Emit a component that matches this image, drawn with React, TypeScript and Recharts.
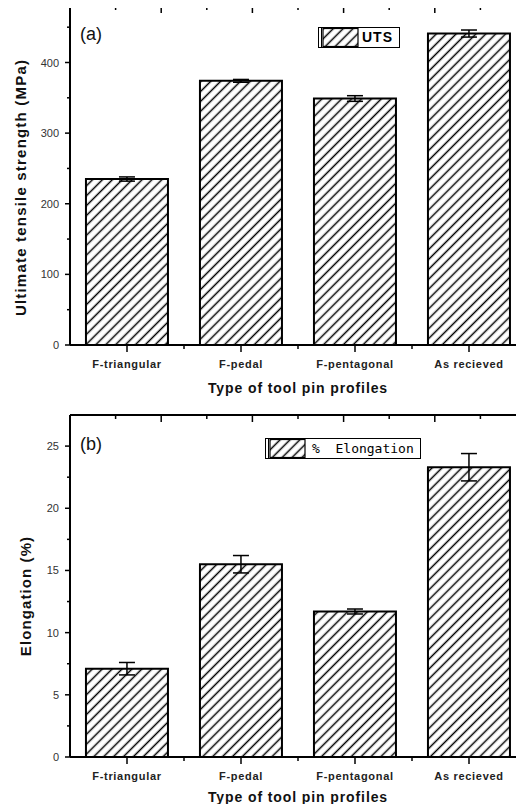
import React from 'react'
import { ComposedChart, Bar, Line, XAxis, YAxis, ErrorBar, Legend, CartesianGrid } from 'recharts'

const profiles = ['F-triangular', 'F-pedal', 'F-pentagonal', 'As recieved']
const utsValues = [235, 374, 349, 441]
const utsErrors = [3, 2, 4, 5]
const elongationValues = [7.1, 15.5, 11.7, 23.3]
const elongationErrors = [0.5, 0.7, 0.2, 1.1]

const utsTicks = [0, 50, 100, 150, 200, 250, 300, 350, 400, 450]
const elongationTicks = [0, 2.5, 5, 7.5, 10, 12.5, 15, 17.5, 20, 22.5, 25]
// the frame's top edge is split in tenths, the right edge in fifths (with halves)
const frameTopTicks = [1, 2, 3, 4, 5, 6, 7, 8, 9]
const frameSideSteps = [0, 0.5, 1, 1.5, 2, 2.5, 3, 3.5, 4, 4.5, 5]

const font = 'Arial, "Liberation Sans", sans-serif'

const utsData = profiles.map((name, i) => ({ name, value: utsValues[i], err: utsErrors[i] }))
const elongationData = profiles.map((name, i) => ({
  name,
  value: elongationValues[i],
  err: elongationErrors[i],
}))

const isMultiple = (v: number, step: number) => Math.abs(v / step - Math.round(v / step)) < 1e-6

const leftTick = (step: number) => (props: any) => {
  const { x, y, payload } = props
  const major = isMultiple(payload.value, step)
  return (
    <g>
      <line x1={x - (major ? 5 : 3)} x2={x} y1={y} y2={y} stroke="#000" strokeWidth={1.5} />
      {major && (
        <text
          x={x - 11}
          y={y}
          textAnchor="end"
          dominantBaseline="central"
          fontSize={11}
          fontFamily={font}
          fill="#333"
        >
          {payload.value}
        </text>
      )}
    </g>
  )
}

const CategoryTick = (props: any) => {
  const { x, y, payload, index } = props
  const half = payload.offset || 57
  return (
    <g>
      <line x1={x} x2={x} y1={y} y2={y + 7} stroke="#000" strokeWidth={1.5} />
      {index < profiles.length - 1 && (
        <line x1={x + half} x2={x + half} y1={y} y2={y + 4} stroke="#000" strokeWidth={1.5} />
      )}
      <text
        x={x}
        y={y + 19}
        textAnchor="middle"
        dominantBaseline="central"
        fontSize={11}
        fontWeight="bold"
        fontFamily={font}
        letterSpacing={0.7}
        fill="#222"
      >
        {payload.value}
      </text>
    </g>
  )
}

// top frame: draws all tenth-marks once, from the band geometry of the first category
const TopTick = (props: any) => {
  const { x, y, payload, index } = props
  if (index !== 0) return <g />
  const half = payload.offset || 57
  const left = x - half
  const step = (half * 2 * profiles.length) / 10
  return (
    <g>
      {frameTopTicks.map((k) => (
        <line
          key={k}
          x1={left + k * step}
          x2={left + k * step}
          y1={y}
          y2={y + (k % 2 === 0 ? 7 : 4)}
          stroke="#000"
          strokeWidth={1.5}
        />
      ))}
    </g>
  )
}

const rightTick = (unit: number) => (props: any) => {
  const { x, y, payload } = props
  return (
    <line
      x1={x - (isMultiple(payload.value, unit) ? 7 : 3)}
      x2={x}
      y1={y}
      y2={y}
      stroke="#000"
      strokeWidth={1.5}
    />
  )
}

const yTitle = (text: string, dx: number, shift: number, spacing: number) => (p: any) => {
  const vb = p.viewBox || { x: 0, y: 0, height: 0 }
  const cx = vb.x + dx
  const cy = vb.y + vb.height / 2 + shift
  return (
    <text
      x={cx}
      y={cy}
      transform={`rotate(-90 ${cx} ${cy})`}
      textAnchor="middle"
      dominantBaseline="central"
      fontSize={15}
      fontWeight="bold"
      fontFamily={font}
      letterSpacing={spacing}
      fill="#111"
    >
      {text}
    </text>
  )
}

function LegendBox({ id, label, mono }: { id: string; label: string; mono?: boolean }) {
  return (
    <div
      style={{
        display: 'flex',
        alignItems: 'center',
        border: '1.5px solid #000',
        height: 19,
        background: '#fff',
        paddingRight: 6,
      }}
    >
      <svg width={40} height={19} style={{ display: 'block' }}>
        <defs>
          <pattern id={id} patternUnits="userSpaceOnUse" width={7} height={7} patternTransform="rotate(45)">
            <line x1={3.5} y1={0} x2={3.5} y2={7} stroke="#000" strokeWidth={1.5} />
          </pattern>
        </defs>
        <line x1={2.5} x2={2.5} y1={0} y2={19} stroke="#000" strokeWidth={1} />
        <rect x={4} y={0.5} width={35} height={18} fill={`url(#${id})`} stroke="#000" strokeWidth={1.2} />
      </svg>
      <span
        style={{
          marginLeft: mono ? 6 : 3,
          fontFamily: mono ? '"DejaVu Sans Mono", monospace' : font,
          fontWeight: mono ? 'normal' : 'bold',
          fontSize: mono ? 13 : 14,
          letterSpacing: mono ? 0 : 1,
          whiteSpace: 'pre',
          lineHeight: '19px',
        }}
      >
        {label}
      </span>
    </div>
  )
}

interface PanelProps {
  data: { name: string; value: number; err: number }[]
  height: number
  topGap: number
  yDomain: [number, number]
  yTicks: number[]
  yStep: number
  yLabel: string
  yLabelDx: number
  yLabelShift: number
  yLabelSpacing: number
  tag: string
  tagTop: number
  legendLabel: string
  legendLeft: number
  legendTop: number
  mono?: boolean
  patternId: string
  titleOffset: number
}

function Panel(p: PanelProps) {
  const unit = p.yDomain[1] / 5
  const sideTicks = frameSideSteps.map((s) => s * unit)
  return (
    <div style={{ position: 'relative', width: 530, height: p.height }}>
      <ComposedChart
        width={530}
        height={p.height}
        data={p.data}
        margin={{ top: 0, right: 3, bottom: 0, left: 0 }}
        barCategoryGap="14%"
      >
        <defs>
          <pattern
            id={p.patternId}
            patternUnits="userSpaceOnUse"
            width={7}
            height={7}
            patternTransform="rotate(45)"
          >
            <line x1={3.5} y1={0} x2={3.5} y2={7} stroke="#000" strokeWidth={1.5} />
          </pattern>
        </defs>
        {/* top edge of the frame */}
        <CartesianGrid
          vertical={false}
          stroke="#000"
          strokeWidth={2}
          horizontalCoordinatesGenerator={(g: any) => [g.offset.top]}
        />
        <XAxis
          xAxisId="frame"
          orientation="top"
          dataKey="name"
          height={p.topGap}
          tickSize={0}
          tickMargin={0}
          tickLine={false}
          interval={0}
          tick={TopTick}
          axisLine={{ stroke: '#000', strokeWidth: 2 }}
        />
        <XAxis
          dataKey="name"
          height={55}
          tickSize={0}
          tickMargin={0}
          tickLine={false}
          interval={0}
          tick={CategoryTick}
          axisLine={{ stroke: '#000', strokeWidth: 2 }}
          label={{
            value: 'Type of tool pin profiles',
            position: 'insideBottom',
            offset: p.titleOffset,
            style: { fontSize: 14, fontWeight: 'bold', fontFamily: font, fill: '#111', letterSpacing: 0.9 },
          }}
        />
        <YAxis
          width={70}
          domain={p.yDomain}
          ticks={p.yTicks}
          tickSize={0}
          tickMargin={0}
          tickLine={false}
          interval={0}
          tick={leftTick(p.yStep)}
          axisLine={{ stroke: '#000', strokeWidth: 2 }}
          label={{ content: yTitle(p.yLabel, p.yLabelDx, p.yLabelShift, p.yLabelSpacing) }}
        />
        <YAxis
          yAxisId="frame"
          orientation="right"
          width={1}
          domain={p.yDomain}
          ticks={sideTicks}
          tickSize={0}
          tickMargin={0}
          tickLine={false}
          interval={0}
          tick={rightTick(unit)}
          axisLine={{ stroke: '#000', strokeWidth: 2 }}
        />
        <Legend
          layout="horizontal"
          verticalAlign="middle"
          align="center"
          wrapperStyle={{ left: p.legendLeft, top: p.legendTop, width: 'auto' }}
          content={() => <LegendBox id={p.patternId + '-key'} label={p.legendLabel} mono={p.mono} />}
        />
        <Bar
          dataKey="value"
          name={p.legendLabel}
          fill={`url(#${p.patternId})`}
          stroke="#000"
          strokeWidth={2}
          isAnimationActive={false}
        >
          <ErrorBar dataKey="err" direction="y" width={8} stroke="#000" strokeWidth={1.5} isAnimationActive={false} />
        </Bar>
        {/* invisible series so the frame axes (top / right) get drawn */}
        <Line
          xAxisId="frame"
          yAxisId="frame"
          dataKey="value"
          stroke="none"
          dot={false}
          activeDot={false}
          legendType="none"
          isAnimationActive={false}
        />
      </ComposedChart>
      <div
        style={{
          position: 'absolute',
          left: 80,
          top: p.tagTop,
          fontFamily: font,
          fontSize: 18,
          lineHeight: '20px',
          color: '#111',
        }}
      >
        {p.tag}
      </div>
    </div>
  )
}

export default function App() {
  return (
    <div style={{ margin: -8, width: 524, height: 812, overflow: 'hidden', background: '#fff' }}>
      <Panel
        data={utsData}
        height={400}
        topGap={6}
        yDomain={[0, 480]}
        yTicks={utsTicks}
        yStep={100}
        yLabel="Ultimate tensile strength (MPa)"
        yLabelDx={20}
        yLabelShift={12}
        yLabelSpacing={1.2}
        tag="(a)"
        tagTop={24}
        legendLabel="UTS"
        legendLeft={318}
        legendTop={27}
        patternId="hatch-uts"
        titleOffset={7}
      />
      <Panel
        data={elongationData}
        height={412}
        topGap={15}
        yDomain={[0, 27.5]}
        yTicks={elongationTicks}
        yStep={5}
        yLabel="Elongation (%)"
        yLabelDx={25}
        yLabelShift={10}
        yLabelSpacing={1.1}
        tag="(b)"
        tagTop={34}
        legendLabel="%  Elongation"
        legendLeft={265}
        legendTop={38}
        mono
        patternId="hatch-el"
        titleOffset={10}
      />
    </div>
  )
}
